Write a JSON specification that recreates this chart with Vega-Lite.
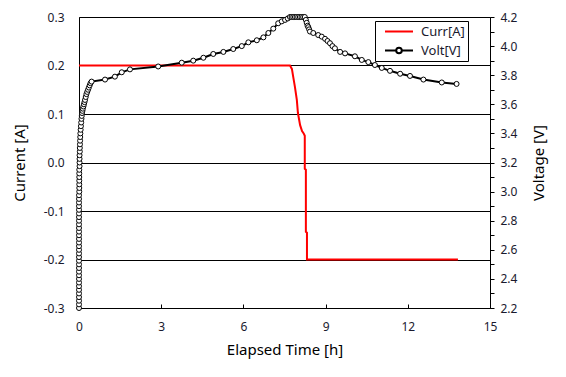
{
  "$schema": "https://vega.github.io/schema/vega-lite/v6.json",
  "width": 411,
  "height": 291,
  "autosize": {"type": "none"},
  "padding": {"left": 79, "top": 17, "right": 76, "bottom": 69},
  "background": "white",
  "config": {
    "font": "Noto Sans",
    "view": {"stroke": "black", "strokeWidth": 1},
    "axis": {
      "labelFont": "Noto Sans",
      "labelFontSize": 12,
      "labelColor": "#1a1a2e",
      "titleFont": "Noto Sans",
      "titleFontSize": 15,
      "titleFontWeight": "normal",
      "titleColor": "black",
      "domain": false,
      "tickColor": "black",
      "gridColor": "black",
      "gridOpacity": 1,
      "gridWidth": 1
    }
  },
  "datasets": {
    "curr": [
      {"t": 0, "I": 0.2, "series": "Curr[A]"},
      {"t": 7.70, "I": 0.2, "series": "Curr[A]"},
      {"t": 7.77, "I": 0.193, "series": "Curr[A]"},
      {"t": 7.82, "I": 0.176, "series": "Curr[A]"},
      {"t": 7.88, "I": 0.156, "series": "Curr[A]"},
      {"t": 7.95, "I": 0.129, "series": "Curr[A]"},
      {"t": 7.99, "I": 0.102, "series": "Curr[A]"},
      {"t": 8.07, "I": 0.077, "series": "Curr[A]"},
      {"t": 8.14, "I": 0.065, "series": "Curr[A]"},
      {"t": 8.20, "I": 0.06, "series": "Curr[A]"},
      {"t": 8.24, "I": 0.055, "series": "Curr[A]"},
      {"t": 8.24, "I": -0.013, "series": "Curr[A]"},
      {"t": 8.28, "I": -0.015, "series": "Curr[A]"},
      {"t": 8.28, "I": -0.143, "series": "Curr[A]"},
      {"t": 8.32, "I": -0.145, "series": "Curr[A]"},
      {"t": 8.32, "I": -0.2, "series": "Curr[A]"},
      {"t": 13.83, "I": -0.2, "series": "Curr[A]"}
    ],
    "volt": [
      {"t": 0.0, "V": 2.2, "series": "Volt[V]"},
      {"t": 0.0, "V": 2.225, "series": "Volt[V]"},
      {"t": 0.0, "V": 2.25, "series": "Volt[V]"},
      {"t": 0.0, "V": 2.275, "series": "Volt[V]"},
      {"t": 0.0, "V": 2.3, "series": "Volt[V]"},
      {"t": 0.0, "V": 2.325, "series": "Volt[V]"},
      {"t": 0.0, "V": 2.35, "series": "Volt[V]"},
      {"t": 0.0, "V": 2.375, "series": "Volt[V]"},
      {"t": 0.0, "V": 2.4, "series": "Volt[V]"},
      {"t": 0.0, "V": 2.425, "series": "Volt[V]"},
      {"t": 0.0, "V": 2.45, "series": "Volt[V]"},
      {"t": 0.0, "V": 2.475, "series": "Volt[V]"},
      {"t": 0.0, "V": 2.5, "series": "Volt[V]"},
      {"t": 0.0, "V": 2.525, "series": "Volt[V]"},
      {"t": 0.0, "V": 2.55, "series": "Volt[V]"},
      {"t": 0.0, "V": 2.575, "series": "Volt[V]"},
      {"t": 0.0, "V": 2.6, "series": "Volt[V]"},
      {"t": 0.0, "V": 2.625, "series": "Volt[V]"},
      {"t": 0.0, "V": 2.65, "series": "Volt[V]"},
      {"t": 0.0, "V": 2.675, "series": "Volt[V]"},
      {"t": 0.0, "V": 2.7, "series": "Volt[V]"},
      {"t": 0.0, "V": 2.725, "series": "Volt[V]"},
      {"t": 0.0, "V": 2.75, "series": "Volt[V]"},
      {"t": 0.0, "V": 2.775, "series": "Volt[V]"},
      {"t": 0.0, "V": 2.8, "series": "Volt[V]"},
      {"t": 0.0, "V": 2.825, "series": "Volt[V]"},
      {"t": 0.0, "V": 2.85, "series": "Volt[V]"},
      {"t": 0.0, "V": 2.875, "series": "Volt[V]"},
      {"t": 0.0, "V": 2.9, "series": "Volt[V]"},
      {"t": 0.0, "V": 2.925, "series": "Volt[V]"},
      {"t": 0.0, "V": 2.95, "series": "Volt[V]"},
      {"t": 0.0, "V": 2.975, "series": "Volt[V]"},
      {"t": 0.01, "V": 3.0, "series": "Volt[V]"},
      {"t": 0.01, "V": 3.025, "series": "Volt[V]"},
      {"t": 0.01, "V": 3.05, "series": "Volt[V]"},
      {"t": 0.01, "V": 3.075, "series": "Volt[V]"},
      {"t": 0.01, "V": 3.1, "series": "Volt[V]"},
      {"t": 0.01, "V": 3.125, "series": "Volt[V]"},
      {"t": 0.01, "V": 3.15, "series": "Volt[V]"},
      {"t": 0.02, "V": 3.175, "series": "Volt[V]"},
      {"t": 0.02, "V": 3.2, "series": "Volt[V]"},
      {"t": 0.02, "V": 3.225, "series": "Volt[V]"},
      {"t": 0.02, "V": 3.25, "series": "Volt[V]"},
      {"t": 0.03, "V": 3.275, "series": "Volt[V]"},
      {"t": 0.03, "V": 3.3, "series": "Volt[V]"},
      {"t": 0.035, "V": 3.325, "series": "Volt[V]"},
      {"t": 0.04, "V": 3.35, "series": "Volt[V]"},
      {"t": 0.045, "V": 3.375, "series": "Volt[V]"},
      {"t": 0.05, "V": 3.4, "series": "Volt[V]"},
      {"t": 0.06, "V": 3.425, "series": "Volt[V]"},
      {"t": 0.07, "V": 3.45, "series": "Volt[V]"},
      {"t": 0.08, "V": 3.475, "series": "Volt[V]"},
      {"t": 0.09, "V": 3.5, "series": "Volt[V]"},
      {"t": 0.1, "V": 3.52, "series": "Volt[V]"},
      {"t": 0.11, "V": 3.54, "series": "Volt[V]"},
      {"t": 0.125, "V": 3.555, "series": "Volt[V]"},
      {"t": 0.14, "V": 3.57, "series": "Volt[V]"},
      {"t": 0.16, "V": 3.585, "series": "Volt[V]"},
      {"t": 0.18, "V": 3.6, "series": "Volt[V]"},
      {"t": 0.2, "V": 3.615, "series": "Volt[V]"},
      {"t": 0.22, "V": 3.63, "series": "Volt[V]"},
      {"t": 0.245, "V": 3.65, "series": "Volt[V]"},
      {"t": 0.27, "V": 3.67, "series": "Volt[V]"},
      {"t": 0.3, "V": 3.685, "series": "Volt[V]"},
      {"t": 0.33, "V": 3.7, "series": "Volt[V]"},
      {"t": 0.36, "V": 3.715, "series": "Volt[V]"},
      {"t": 0.39, "V": 3.73, "series": "Volt[V]"},
      {"t": 0.42, "V": 3.745, "series": "Volt[V]"},
      {"t": 0.46, "V": 3.756, "series": "Volt[V]"},
      {"t": 0.95, "V": 3.77, "series": "Volt[V]"},
      {"t": 1.31, "V": 3.79, "series": "Volt[V]"},
      {"t": 1.56, "V": 3.82, "series": "Volt[V]"},
      {"t": 1.86, "V": 3.84, "series": "Volt[V]"},
      {"t": 2.89, "V": 3.86, "series": "Volt[V]"},
      {"t": 3.75, "V": 3.886, "series": "Volt[V]"},
      {"t": 4.17, "V": 3.9, "series": "Volt[V]"},
      {"t": 4.54, "V": 3.92, "series": "Volt[V]"},
      {"t": 4.9, "V": 3.946, "series": "Volt[V]"},
      {"t": 5.27, "V": 3.96, "series": "Volt[V]"},
      {"t": 5.63, "V": 3.98, "series": "Volt[V]"},
      {"t": 5.94, "V": 4.0, "series": "Volt[V]"},
      {"t": 6.18, "V": 4.026, "series": "Volt[V]"},
      {"t": 6.49, "V": 4.04, "series": "Volt[V]"},
      {"t": 6.73, "V": 4.06, "series": "Volt[V]"},
      {"t": 6.91, "V": 4.09, "series": "Volt[V]"},
      {"t": 7.09, "V": 4.12, "series": "Volt[V]"},
      {"t": 7.27, "V": 4.157, "series": "Volt[V]"},
      {"t": 7.4, "V": 4.17, "series": "Volt[V]"},
      {"t": 7.52, "V": 4.18, "series": "Volt[V]"},
      {"t": 7.62, "V": 4.19, "series": "Volt[V]"},
      {"t": 7.7, "V": 4.2, "series": "Volt[V]"},
      {"t": 7.76, "V": 4.2, "series": "Volt[V]"},
      {"t": 7.82, "V": 4.2, "series": "Volt[V]"},
      {"t": 7.88, "V": 4.2, "series": "Volt[V]"},
      {"t": 7.94, "V": 4.2, "series": "Volt[V]"},
      {"t": 8.0, "V": 4.2, "series": "Volt[V]"},
      {"t": 8.06, "V": 4.2, "series": "Volt[V]"},
      {"t": 8.12, "V": 4.2, "series": "Volt[V]"},
      {"t": 8.18, "V": 4.2, "series": "Volt[V]"},
      {"t": 8.24, "V": 4.2, "series": "Volt[V]"},
      {"t": 8.28, "V": 4.18, "series": "Volt[V]"},
      {"t": 8.31, "V": 4.16, "series": "Volt[V]"},
      {"t": 8.34, "V": 4.14, "series": "Volt[V]"},
      {"t": 8.37, "V": 4.13, "series": "Volt[V]"},
      {"t": 8.4, "V": 4.115, "series": "Volt[V]"},
      {"t": 8.43, "V": 4.1, "series": "Volt[V]"},
      {"t": 8.55, "V": 4.09, "series": "Volt[V]"},
      {"t": 8.73, "V": 4.076, "series": "Volt[V]"},
      {"t": 8.86, "V": 4.065, "series": "Volt[V]"},
      {"t": 8.98, "V": 4.05, "series": "Volt[V]"},
      {"t": 9.07, "V": 4.035, "series": "Volt[V]"},
      {"t": 9.16, "V": 4.02, "series": "Volt[V]"},
      {"t": 9.25, "V": 4.0, "series": "Volt[V]"},
      {"t": 9.34, "V": 3.985, "series": "Volt[V]"},
      {"t": 9.53, "V": 3.96, "series": "Volt[V]"},
      {"t": 9.71, "V": 3.95, "series": "Volt[V]"},
      {"t": 10.07, "V": 3.93, "series": "Volt[V]"},
      {"t": 10.32, "V": 3.905, "series": "Volt[V]"},
      {"t": 10.56, "V": 3.89, "series": "Volt[V]"},
      {"t": 10.8, "V": 3.87, "series": "Volt[V]"},
      {"t": 11.05, "V": 3.85, "series": "Volt[V]"},
      {"t": 11.35, "V": 3.83, "series": "Volt[V]"},
      {"t": 11.72, "V": 3.81, "series": "Volt[V]"},
      {"t": 12.08, "V": 3.795, "series": "Volt[V]"},
      {"t": 12.57, "V": 3.77, "series": "Volt[V]"},
      {"t": 13.24, "V": 3.75, "series": "Volt[V]"},
      {"t": 13.78, "V": 3.74, "series": "Volt[V]"}
    ]
  },
  "layer": [
    {
      "data": {"name": "curr"},
      "mark": {"type": "line", "strokeWidth": 2, "clip": true},
      "encoding": {
        "x": {
          "field": "t", "type": "quantitative",
          "scale": {"domain": [0, 15], "nice": false},
          "axis": {
            "title": "Elapsed Time [h]",
            "values": [0, 3, 6, 9, 12, 15],
            "tickSize": -4,
            "labelPadding": 17,
            "labelFlush": false,
            "grid": false,
            "titlePadding": 10
          }
        },
        "y": {
          "field": "I", "type": "quantitative",
          "scale": {"domain": [-0.3, 0.3], "nice": false, "zero": false},
          "axis": {
            "title": "Current [A]",
            "orient": "left",
            "values": [-0.3, -0.2, -0.1, 0, 0.1, 0.2, 0.3],
            "labelExpr": "replace(format(datum.value, '.1f'), '−', '-')",
            "ticks": false,
            "labelPadding": 15,
            "labelFlush": false,
            "grid": true,
            "titlePadding": 16
          }
        },
        "color": {
          "field": "series", "type": "nominal",
          "scale": {"domain": ["Curr[A]", "Volt[V]"], "range": ["#ff0000", "#000000"]},
          "legend": {
            "title": null,
            "orient": "none",
            "legendX": 296,
            "legendY": 4,
            "fillColor": "white",
            "strokeColor": "black",
            "padding": 3,
            "clipHeight": 15,
            "rowPadding": 4,
            "symbolSize": 784,
            "symbolStrokeWidth": 2,
            "symbolOffset": 6,
            "symbolType": "stroke",
            "labelOffset": 7,
            "labelFont": "Noto Sans",
            "labelFontSize": 13,
            "labelColor": "#1a1a2e",
            "encode": {
              "symbols": {
                "update": {
                  "fill": {"value": "white"},
                  "shape": [
                    {"test": "datum.value === 'Volt[V]'", "value": "M-1,0H-0.2M0.2,0H1M0.2,0A0.2,0.2 0 1,1 -0.2,0A0.2,0.2 0 1,1 0.2,0"},
                    {"value": "M-1,0H1"}
                  ]
                }
              }
            }
          }
        }
      }
    },
    {
      "data": {"name": "volt"},
      "mark": {"type": "line", "strokeWidth": 2, "point": {"filled": false, "fill": "white", "stroke": "black", "size": 25, "strokeWidth": 1}},
      "encoding": {
        "x": {"field": "t", "type": "quantitative"},
        "y": {
          "field": "V", "type": "quantitative",
          "scale": {"domain": [2.2, 4.2], "nice": false, "zero": false},
          "axis": {
            "title": "Voltage [V]",
            "orient": "right",
            "titleAngle": 270,
            "values": [2.2, 2.3, 2.4, 2.5, 2.6, 2.7, 2.8, 2.9, 3.0, 3.1, 3.2, 3.3, 3.4, 3.5, 3.6, 3.7, 3.8, 3.9, 4.0, 4.1, 4.2],
            "labelExpr": "round(datum.value * 10) % 2 == 0 ? format(datum.value, '.1f') : ''",
            "tickSize": 4,
            "labelPadding": 6,
            "labelFlush": false,
            "grid": false,
            "titlePadding": 30
          }
        },
        "color": {"field": "series", "type": "nominal"}
      }
    }
  ],
  "resolve": {"scale": {"y": "independent"}}
}
